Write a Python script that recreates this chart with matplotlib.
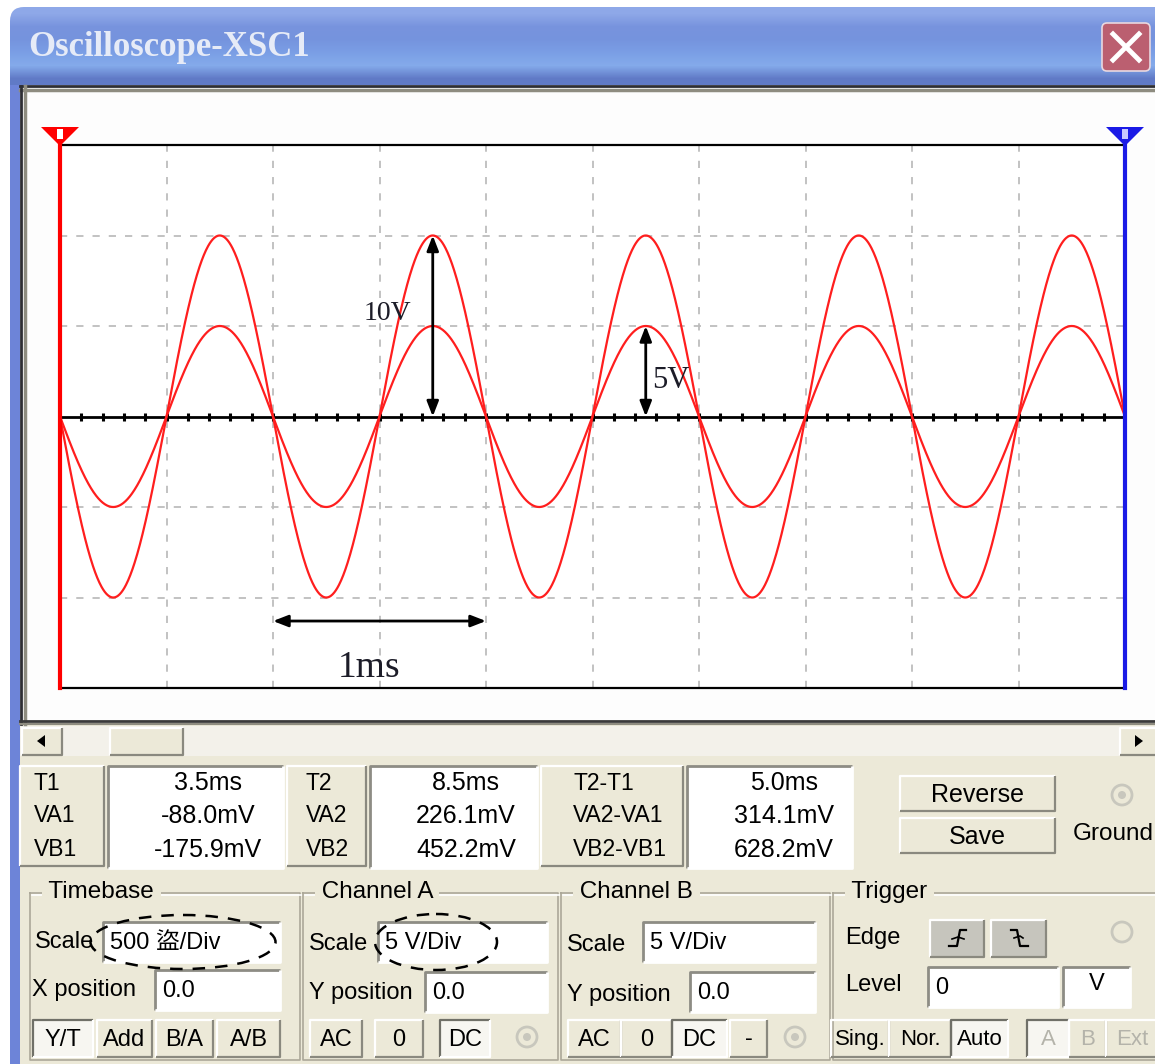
import numpy as np
import matplotlib.pyplot as plt
from matplotlib.patches import Rectangle, Polygon, Ellipse, Circle, FancyBboxPatch

W, H = 1155, 1064
BG = "#ece9d8"
UI_FONT = ["Liberation Sans", "Noto Sans CJK SC", "DejaVu Sans"]

# scope settings
time_div_ms = 0.5
volt_div = 5
n_xdiv = 10
n_ydiv = 6
freq_khz = 1.0
amp_a = 5.0
amp_b = 10.0

readout_labels = [["T1", "VA1", "VB1"], ["T2", "VA2", "VB2"], ["T2-T1", "VA2-VA1", "VB2-VB1"]]
readout_values = [["3.5ms", "-88.0mV", "-175.9mV"], ["8.5ms", "226.1mV", "452.2mV"],
                  ["5.0ms", "314.1mV", "628.2mV"]]
timebase_buttons = ["Y/T", "Add", "B/A", "A/B"]
chan_a_buttons = ["AC", "0", "DC"]
chan_b_buttons = ["AC", "0", "DC", "-"]
trigger_modes = ["Sing.", "Nor.", "Auto"]
trigger_sources = ["A", "B", "Ext"]

fig = plt.figure(figsize=(W / 100, H / 100), dpi=100)
fig.patch.set_facecolor("white")
ui = fig.add_axes([0, 0, 1, 1])
ui.set_xlim(0, W)
ui.set_ylim(H, 0)
ui.axis("off")


def box(x0, y0, x1, y1, fc, ec="none", lw=0, z=1):
    ui.add_patch(Rectangle((x0, y0), x1 - x0, y1 - y0, fc=fc, ec=ec, lw=lw, zorder=z))


def edges(x0, y0, x1, y1, tl, br, lw=1.2, z=2):
    ui.plot([x0, x0, x1], [y1, y0, y0], color=tl, lw=lw, zorder=z, solid_capstyle="butt")
    ui.plot([x0, x1, x1], [y1, y1, y0], color=br, lw=lw, zorder=z, solid_capstyle="butt")


def button(x0, y0, x1, y1, label="", pressed=False, fc=BG, color="black", size=17):
    box(x0, y0, x1, y1, "#f7f6f1" if pressed else fc)
    if pressed:
        edges(x0, y0, x1, y1, "#707068", "#ffffff", lw=1.6)
    else:
        edges(x0, y0, x1, y1, "#ffffff", "#8a897f", lw=1.6)
    if label:
        ui.text((x0 + x1) / 2, (y0 + y1) / 2 + 1, label, ha="center", va="center",
                fontsize=size, color=color, family=UI_FONT, zorder=4)


def textbox(x0, y0, x1, y1, label="", size=17):
    box(x0, y0, x1, y1, "white")
    edges(x0, y0, x1, y1, "#8d8c84", "#ffffff", lw=2)
    if label:
        ui.text(x0 + 7, (y0 + y1) / 2 + 1, label, ha="left", va="center",
                fontsize=size, family=UI_FONT, zorder=4)


def label(x, y, s, ha="left", size=17, color="black"):
    ui.text(x, y, s, ha=ha, va="center", fontsize=size, color=color, family=UI_FONT, zorder=4)


def radio(x, y, dot=True):
    ui.add_patch(Circle((x, y), 10, fc="none", ec="#c8c7bd", lw=2, zorder=3))
    if dot:
        ui.add_patch(Circle((x, y), 4, fc="#c8c7bd", ec="none", zorder=3))


# window frame and title bar
box(10, 60, W, H, "#6d84d8")
box(20, 85, W, H, BG)
grad = np.array([[0.56, 0.66, 0.91], [0.47, 0.58, 0.87], [0.46, 0.58, 0.87],
                 [0.48, 0.62, 0.90], [0.52, 0.67, 0.92], [0.38, 0.48, 0.78]])
im = ui.imshow(grad[:, None, :], extent=(10, W, 85, 7), aspect="auto",
               interpolation="bilinear", zorder=1)
clip = FancyBboxPatch((10, 7), W + 20, 120, boxstyle="round,pad=0,rounding_size=14",
                      transform=ui.transData, fc="none", ec="none")
ui.add_patch(clip)
im.set_clip_path(clip)
ui.set_xlim(0, W)
ui.set_ylim(H, 0)
ui.text(28, 48, "Oscilloscope-XSC1", ha="left", va="center", fontsize=25, weight="bold",
        color="#e6ebf7", family="Liberation Serif", zorder=3)
ui.add_patch(FancyBboxPatch((1102, 23), 48, 48, boxstyle="round,pad=0,rounding_size=5",
                            fc="#bb5f70", ec="#e8d8e0", lw=1.2, zorder=3))
ui.plot([1113, 1139], [34, 60], color="white", lw=3.5, zorder=4)
ui.plot([1113, 1139], [60, 34], color="white", lw=3.5, zorder=4)

# screen area
box(20, 85, W, 724, "#fdfdfd")
ui.plot([20, W], [86, 86], color="#2e2e34", lw=2, zorder=2)
ui.plot([20, W], [89.5, 89.5], color="#8e8c80", lw=2.5, zorder=2)
ui.plot([21, 21], [86, 724], color="#2e2e34", lw=2, zorder=2)
ui.plot([24.5, 24.5], [86, 724], color="#8e8c80", lw=2.5, zorder=2)
ui.plot([20, W], [721, 721], color="#3a3a3a", lw=2, zorder=2)
ui.plot([20, W], [724, 724], color="#8e8c80", lw=1.5, zorder=2)

# scrollbar
box(20, 726, W, 756, "#f3f1ea")
button(22, 728, 62, 755)
ui.add_patch(Polygon([[37, 741], [45, 735], [45, 747]], fc="black", zorder=4))
button(110, 728, 183, 755)
button(1120, 728, W + 5, 755)
ui.add_patch(Polygon([[1143, 741], [1135, 735], [1135, 747]], fc="black", zorder=4))

# cursor readouts
lab_boxes = [(20, 104), (287, 366), (541, 683)]
val_boxes = [(108, 283), (370, 537), (687, 852)]
lab_x = [34, 306, 573]
val_cx = [208, 466, 784]
rows_y = [783, 816, 850]
for i in range(3):
    button(lab_boxes[i][0], 766, lab_boxes[i][1], 866)
    textbox(val_boxes[i][0], 766, val_boxes[i][1], 868)
    for j in range(3):
        label(lab_x[i], rows_y[j], readout_labels[i][j], size=16.5)
        label(val_cx[i], rows_y[j], readout_values[i][j], ha="center", size=18)

button(900, 776, 1055, 811, "Reverse", size=18)
button(900, 818, 1055, 853, "Save", size=18)
radio(1122, 795)
label(1073, 834, "Ground", size=17.5)

# group boxes
group_x = [(30, 300, "Timebase"), (303, 558, "Channel A"), (561, 830, "Channel B"),
           (833, W + 10, "Trigger")]
for x0, x1, name in group_x:
    ui.plot([x0, x1, x1, x0, x0], [893, 893, 1060, 1060, 893], color="#aca899", lw=1.2, zorder=2)
    ui.plot([x0 + 2, x1 + 2], [895, 895], color="white", lw=1.2, zorder=2)
    ui.text(x0 + 12, 892, " " + name + " ", ha="left", va="center", fontsize=17.5,
            family=UI_FONT, zorder=4, bbox=dict(fc=BG, ec="none", pad=0))

# timebase
label(35, 942, "Scale")
textbox(103, 922, 280, 962, "500 盜/Div")
label(32, 990, "X position")
textbox(155, 970, 280, 1010, "0.0")
tb_x = [(33, 93), (97, 152), (156, 213), (217, 280)]
for (x0, x1), name in zip(tb_x, timebase_buttons):
    button(x0, 1020, x1, 1057, name, pressed=(name == "Y/T"))

# channel A
label(309, 944, "Scale")
textbox(378, 922, 547, 962, "5 V/Div")
label(309, 993, "Y position")
textbox(425, 972, 547, 1012, "0.0")
ca_x = [(310, 362), (375, 423), (440, 490)]
for (x0, x1), name in zip(ca_x, chan_a_buttons):
    button(x0, 1020, x1, 1057, name, pressed=(name == "DC"))
radio(527, 1037)

# channel B
label(567, 945, "Scale")
textbox(643, 922, 815, 962, "5 V/Div")
label(567, 995, "Y position")
textbox(690, 972, 815, 1012, "0.0")
cb_x = [(568, 621), (621, 672), (672, 727), (730, 767)]
for (x0, x1), name in zip(cb_x, chan_b_buttons):
    button(x0, 1020, x1, 1057, name, pressed=(name == "DC"))
radio(795, 1037)

# trigger
label(845, 938, "Edge")
button(930, 920, 984, 957, fc="#c6c5bd")
button(991, 920, 1046, 957, fc="#c6c5bd")
ui.plot([949, 957, 960, 966], [946, 946, 930, 930], color="black", lw=1.6, zorder=4)
ui.plot([1011, 1017, 1020, 1028], [930, 930, 946, 946], color="black", lw=1.6, zorder=4)
ui.plot([1014, 1020, 1023], [938, 936, 938], color="black", lw=1.2, zorder=4)
ui.plot([952, 958, 964], [939, 937, 939], color="black", lw=1.2, zorder=4)
radio(1122, 932, dot=False)
label(845, 985, "Level")
textbox(928, 967, 1058, 1007, "0")
textbox(1063, 967, 1130, 1007)
label(1097, 984, "V", ha="center")
tm_x = [(831, 889), (889, 951), (951, 1008)]
for (x0, x1), name in zip(tm_x, trigger_modes):
    button(x0, 1020, x1, 1057, name, pressed=(name == "Auto"), size=16)
ts_x = [(1027, 1069), (1069, 1106), (1106, W + 4)]
for (x0, x1), name in zip(ts_x, trigger_sources):
    button(x0, 1020, x1, 1057, name, pressed=(name == "A"), color="#b4b3aa", size=16)

# dashed marks around the scale settings
ui.add_patch(Ellipse((183, 942), 185, 54, fill=False, ec="black", lw=1.8, ls=(0, (5, 4)), zorder=6))
ui.add_patch(Ellipse((436, 942), 122, 56, fill=False, ec="black", lw=1.8, ls=(0, (5, 4)), zorder=6))

# cursor flags above the screen
ui.add_patch(Polygon([[41, 127], [79, 127], [60, 146]], fc="#ff0000", ec="none", zorder=3))
box(57, 129, 63, 139, "white", z=4)
ui.add_patch(Polygon([[1106, 127], [1144, 127], [1125, 146]], fc="#1a1ae6", ec="none", zorder=3))
box(1122, 129, 1128, 139, "#c8c8ff", z=4)

# scope screen
t_end = time_div_ms * n_xdiv
v_top = volt_div * n_ydiv / 2
ax = fig.add_axes([60 / W, 1 - 688 / H, 1065 / W, 543 / H])
ax.set_xlim(0, t_end)
ax.set_ylim(-v_top, v_top)
ax.set_facecolor("white")
ax.set_xticks([])
ax.set_yticks([])
for sp in ax.spines.values():
    sp.set_color("black")
    sp.set_linewidth(1.6)

for k in range(1, n_xdiv):
    ax.axvline(k * time_div_ms, color="#bdbdbd", lw=1.3, ls=(0, (4, 5)), zorder=1)
for k in range(1, n_ydiv):
    if k != n_ydiv // 2:
        ax.axhline(-v_top + k * volt_div, color="#bdbdbd", lw=1.3, ls=(0, (4, 5)), zorder=1)
ax.axhline(0, color="black", lw=2, zorder=2)
minor = np.arange(1, n_xdiv * 5) * time_div_ms / 5
ax.plot(minor, np.zeros_like(minor), "|", color="black", ms=6, mew=2.2, zorder=2)

t = np.linspace(0, t_end, 2001)
ax.plot(t, -amp_a * np.sin(2 * np.pi * freq_khz * t), color="#ff1e1e", lw=1.6, zorder=3)
ax.plot(t, -amp_b * np.sin(2 * np.pi * freq_khz * t), color="#ff1e1e", lw=1.6, zorder=3)

ax.axvline(0, color="#ff0000", lw=3, zorder=5, clip_on=False)
ax.axvline(t_end, color="#1a1ae6", lw=3, zorder=5, clip_on=False)

arrow = dict(arrowstyle="<|-|>,head_length=0.9,head_width=0.35", color="black", lw=2,
             shrinkA=0, shrinkB=0)
ax.annotate("", xy=(1.75, amp_b), xytext=(1.75, 0), arrowprops=arrow, zorder=6)
ax.annotate("", xy=(2.75, amp_a), xytext=(2.75, 0), arrowprops=arrow, zorder=6)
ax.annotate("", xy=(1.0, -11.3), xytext=(2.0, -11.3), arrowprops=arrow, zorder=6)
ax.text(1.65, 5.7, "10V", ha="right", va="center", fontsize=20, family="Liberation Serif",
        color="#1c1c28", zorder=6)
ax.text(2.78, 2.0, "5V", ha="left", va="center", fontsize=22, family="Liberation Serif",
        color="#1c1c28", zorder=6)
ax.text(1.45, -13.9, "1ms", ha="center", va="center", fontsize=27, family="Liberation Serif",
        color="#1c1c28", zorder=6)

fig.savefig("out.png", dpi=100)
